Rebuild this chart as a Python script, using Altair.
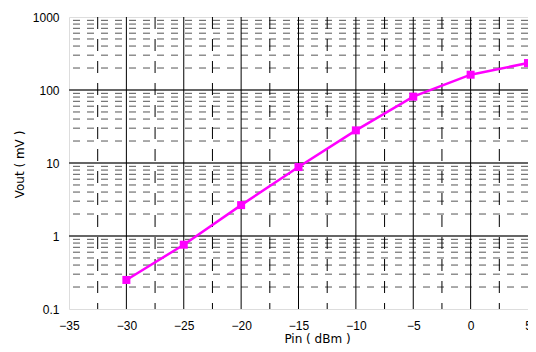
import altair as alt
import pandas as pd

pin = [-30, -25, -20, -15, -10, -5, 0, 5]
vout = [0.25, 0.76, 2.65, 8.8, 28.0, 81, 162, 234]

x_ticks = [-35, -30, -25, -20, -15, -10, -5, 0, 5]
x_major = [-30, -25, -20, -15, -10, -5, 0]
x_minor = [-32.5, -27.5, -22.5, -17.5, -12.5, -7.5, -2.5, 2.5]
y_ticks = [0.1, 1, 10, 100, 1000]
y_major = [1, 10, 100]
y_minor = [m * d for d in [0.1, 1, 10, 100] for m in range(2, 10)]

FONT = "Liberation Sans"
TFONT = "DejaVu Sans"
xs = alt.Scale(domain=[-35, 5], nice=False, zero=False)
ys = alt.Scale(type="log", domain=[0.1, 1000], nice=False)

df = pd.DataFrame({"pin": pin, "vout": vout})

hminor = alt.Chart(pd.DataFrame({"y": y_minor})).mark_rule(
    color="#555555", strokeWidth=1, strokeDash=[7, 7]
).encode(y=alt.Y("y:Q", scale=ys))

hmajor = alt.Chart(pd.DataFrame({"y": y_major})).mark_rule(
    color="#666666", strokeWidth=2
).encode(y=alt.Y("y:Q", scale=ys))

vminor = alt.Chart(pd.DataFrame({"x": x_minor})).mark_rule(
    color="#000000", strokeWidth=1, strokeDash=[12, 10]
).encode(x=alt.X("x:Q", scale=xs))

vmajor = alt.Chart(pd.DataFrame({"x": x_major})).mark_rule(
    color="#000000", strokeWidth=1
).encode(x=alt.X("x:Q", scale=xs))

line = alt.Chart(df).mark_line(
    color="#FF00FF", strokeWidth=2.5,
    point=alt.OverlayMarkDef(shape="square", size=64, color="#FF00FF", filled=True, opacity=1),
).encode(
    x=alt.X("pin:Q", scale=xs, title="Pin ( dBm )",
            axis=alt.Axis(values=x_ticks, grid=False, ticks=False, domain=False,
                          labelFont=FONT, labelFontSize=12, labelColor="#000",
                          labelPadding=11, labelBaseline="top", labelFlush=False,
                          titleFont=TFONT, titleFontSize=12, titleFontWeight="normal",
                          titleColor="#000", titleX=248, titleY=29,
                          titleBaseline="middle", titleAlign="center")),
    y=alt.Y("vout:Q", scale=ys, title="Vout ( mV )",
            axis=alt.Axis(values=y_ticks, format="~g", grid=False, ticks=False, domain=False,
                          labelFont=FONT, labelFontSize=12, labelColor="#000",
                          labelPadding=10, labelFlush=False,
                          titleFont=TFONT, titleFontSize=12, titleFontWeight="normal",
                          titleColor="#000", titleX=-50, titleY=147, titleAngle=270,
                          titleBaseline="middle", titleAlign="center")),
)

chart = alt.layer(hminor, hmajor, vminor, vmajor, line).properties(
    width=459, height=292,
    autosize=alt.AutoSizeParams(type="none"),
    padding={"left": 61, "top": 9, "right": 0, "bottom": 43},
).configure_view(stroke="#000000", strokeWidth=2).configure(background="white")

chart.save("out.html", embed_options={"renderer": "svg", "actions": False})
